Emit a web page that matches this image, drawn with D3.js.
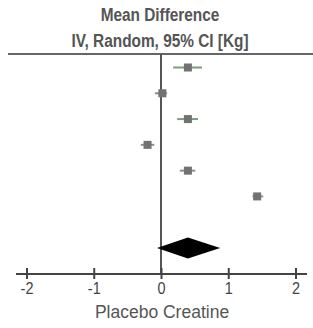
<!DOCTYPE html>
<html>
<head>
<meta charset="utf-8">
<script src="https://cdn.jsdelivr.net/npm/d3@7"></script>
<style>
  html, body { margin: 0; padding: 0; background: #fff; }
  svg { display: block; }
</style>
</head>
<body>
<svg id="plot"></svg>
<script>
// values (mean difference, kg)
const studyMeans = [0.40, 0.02, 0.40, -0.20, 0.40, 1.43];
const studyLower = [0.18, -0.09, 0.24, -0.30, 0.28, 1.36];
const studyUpper = [0.61, 0.09, 0.55, -0.10, 0.51, 1.52];
const pooled = [-0.06, 0.40, 0.88]; // lower, mean, upper
const tickValues = [-2, -1, 0, 1, 2];
const titleLines = ["Mean Difference", "IV, Random, 95% CI [Kg]"];
const axisLabel = "Placebo Creatine";

const width = 313, height = 328;
const svg = d3.select("#plot").attr("width", width).attr("height", height);

const x = d3.scaleLinear([-2, 2], [26.5, 295.5]);
// rows 0..5 are the studies, row 7 the pooled diamond
const y = d3.scaleLinear([0, 7], [67.5, 248]);
const axisY = 274;

// Title (no narrow font installed, so squeeze it horizontally)
const title = svg.append("g")
  .attr("font-family", "'Liberation Sans', Arial, sans-serif")
  .attr("font-weight", "bold")
  .attr("font-size", 19)
  .attr("fill", "#555")
  .attr("text-anchor", "middle");
title.selectAll("text")
  .data(titleLines)
  .join("text")
  .attr("transform", (d, i) => `translate(160,${21 + i * 26}) scale(0.81,1)`)
  .text(d => d);

// header rule
svg.append("line")
  .attr("x1", 8).attr("x2", width)
  .attr("y1", 54).attr("y2", 54)
  .attr("stroke", "#666").attr("stroke-width", 2);

// line of no effect
svg.append("line")
  .attr("x1", x(0)).attr("x2", x(0))
  .attr("y1", 54).attr("y2", axisY)
  .attr("stroke", "#555").attr("stroke-width", 2);

// Studies
const rows = studyMeans.map((m, i) => ({ m, lo: studyLower[i], hi: studyUpper[i], i }));
const study = svg.append("g").selectAll("g")
  .data(rows)
  .join("g");
study.append("line")
  .attr("x1", d => x(d.lo)).attr("x2", d => x(d.hi))
  .attr("y1", d => y(d.i)).attr("y2", d => y(d.i))
  .attr("stroke", "#7f9a7f").attr("stroke-width", 2);
study.append("rect")
  .attr("x", d => x(d.m) - 4).attr("y", d => y(d.i) - 4)
  .attr("width", 8).attr("height", 8)
  .attr("fill", "#727272");

// Pooled diamond
const dy = y(7);
svg.append("path")
  .attr("d", `M${x(pooled[0])},${dy} L${x(pooled[1])},${dy - 10.5} L${x(pooled[2])},${dy} L${x(pooled[1])},${dy + 10.5} Z`)
  .attr("fill", "#000");

// Axis
const axis = svg.append("g")
  .attr("transform", `translate(0,${axisY})`)
  .call(d3.axisBottom(x).tickValues(tickValues).tickSize(5).tickFormat(d3.format("d")));
axis.select(".domain").remove();
axis.insert("line", ":first-child")
  .attr("x1", 16).attr("x2", 307)
  .attr("stroke", "#444").attr("stroke-width", 2);
axis.selectAll(".tick line")
  .attr("y1", -6).attr("y2", 5)
  .attr("stroke", "#444").attr("stroke-width", 2);
axis.selectAll(".tick text")
  .attr("y", 8)
  .attr("transform", "scale(0.85,1)")
  .attr("font-family", "'Liberation Sans', Arial, sans-serif")
  .attr("font-size", 17)
  .attr("fill", "#444")
  .text(d => d < 0 ? "-" + Math.abs(d) : d);

svg.append("text")
  .attr("x", 162).attr("y", 318)
  .attr("text-anchor", "middle")
  .attr("font-family", "'Liberation Sans', Arial, sans-serif")
  .attr("font-size", 17.5)
  .attr("fill", "#555")
  .text(axisLabel);
</script>
</body>
</html>
